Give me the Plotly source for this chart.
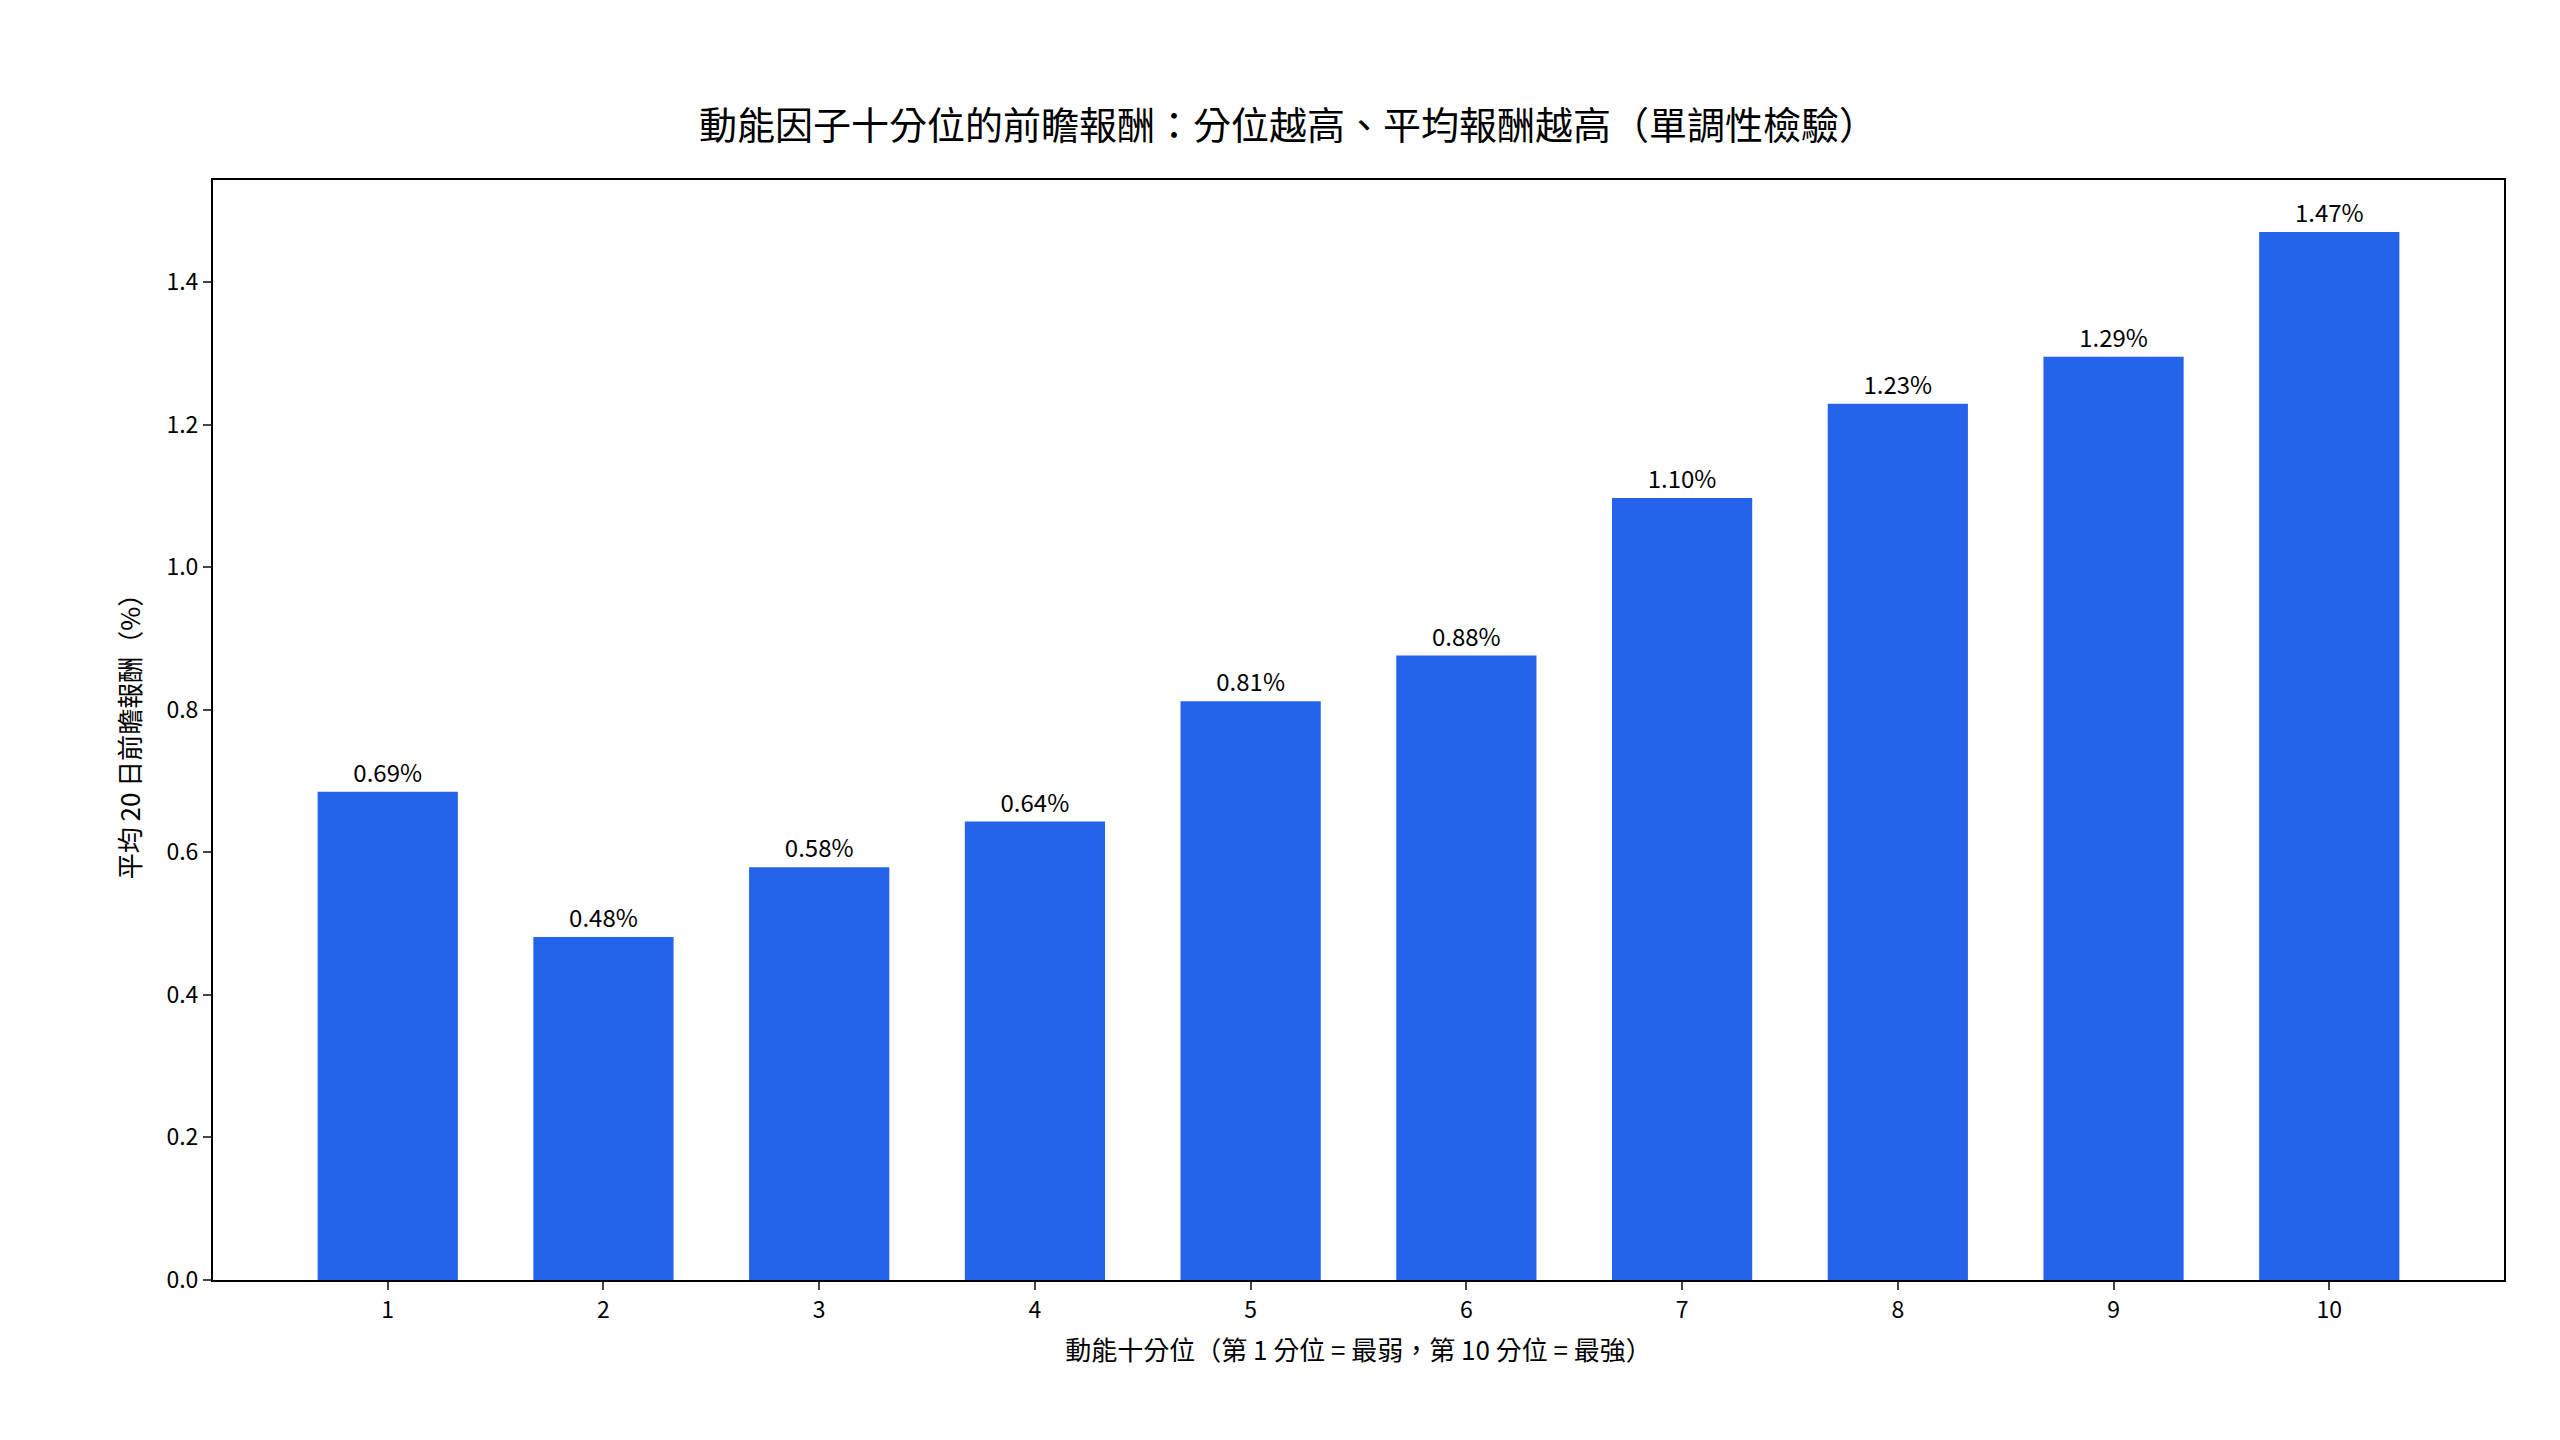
import plotly.graph_objects as go

deciles = [1, 2, 3, 4, 5, 6, 7, 8, 9, 10]
mean_ret = [0.685, 0.481, 0.579, 0.643, 0.812, 0.876, 1.097, 1.229, 1.295, 1.470]
labels = ["{:.2f}%".format(v) for v in mean_ret]

font = "Noto Sans CJK TC"
fig = go.Figure(go.Bar(
    x=deciles, y=mean_ret, width=0.65,
    marker=dict(color="#2563eb", line=dict(width=0)),
    text=labels, textposition="outside", cliponaxis=False,
    textfont=dict(size=24, color="black", family=font),
))

axis = dict(showline=True, linecolor="black", linewidth=2, mirror=True,
            ticks="outside", ticklen=8, tickwidth=2, showgrid=False, zeroline=False,
            tickfont=dict(size=23, color="black", family=font))

fig.update_layout(
    width=2560, height=1440, plot_bgcolor="white", paper_bgcolor="white",
    margin=dict(l=205, r=64, t=172, b=168),
    font=dict(family=font, color="black"),
    title=dict(text="動能因子十分位的前瞻報酬：分位越高、平均報酬越高（單調性檢驗）",
               x=0.5, xanchor="center", y=0.918, yanchor="middle",
               font=dict(size=38, family=font, color="black")),
    xaxis=dict(axis, range=[0.19, 10.81], tickvals=deciles,
               title=dict(text="動能十分位（第 1 分位 = 最弱，第 10 分位 = 最強）",
                          font=dict(size=26), standoff=18)),
    yaxis=dict(axis, range=[0, 1.543], tickvals=[0, 0.2, 0.4, 0.6, 0.8, 1.0, 1.2, 1.4],
               tickformat=".1f",
               title=dict(text="平均 20 日前瞻報酬（%）", font=dict(size=26), standoff=18)),
    showlegend=False,
)

fig.write_html("out.html")
